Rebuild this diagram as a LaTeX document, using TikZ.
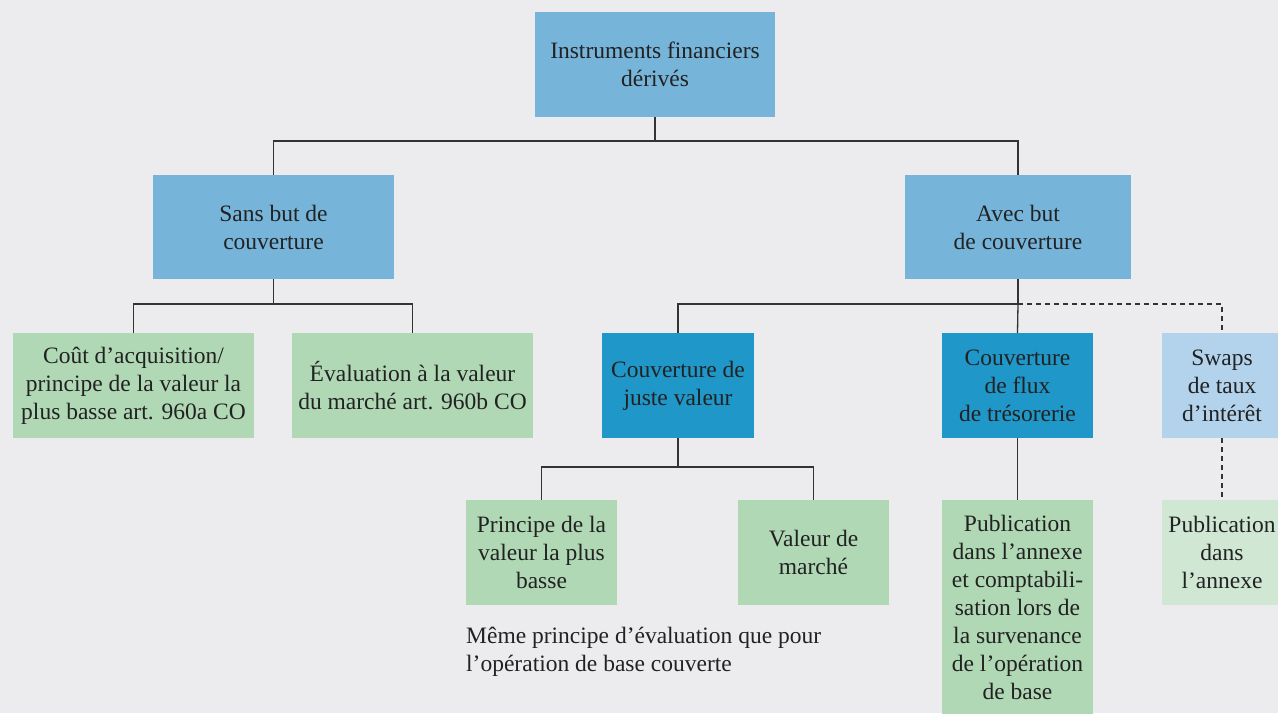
\documentclass[tikz,border=0pt]{standalone}
\usepackage{fontspec}
\setmainfont{Liberation Serif}
\usetikzlibrary{positioning}
\definecolor{bg}{HTML}{ECECEE}
\definecolor{bluemid}{HTML}{76B4DA}
\definecolor{bluedark}{HTML}{1F97C8}
\definecolor{bluelight}{HTML}{B2D3EB}
\definecolor{greenmid}{HTML}{B0D8B5}
\definecolor{greenlight}{HTML}{CFE7D3}
\definecolor{ink}{HTML}{222222}
\definecolor{linec}{HTML}{333333}
\tikzset{
  box/.style={rectangle, inner sep=0pt, align=center, text=ink,
    font=\fontsize{23.5}{28}\selectfont},
  conn/.style={draw=linec, line width=1.3pt},
  dconn/.style={conn, dash pattern=on 5pt off 4pt},
}
\begin{document}
\begin{tikzpicture}[x=1pt,y=-1pt]
\useasboundingbox (0,0) rectangle (1278,713);
\fill[bg] (0,0) rectangle (1278,713);
\clip (0,0) rectangle (1278,713);
\node[box, fill=bluemid, minimum width=240pt, minimum height=105pt] (top) at (655,64.5) {Instruments financiers\\dérivés};
\node[box, fill=bluemid, minimum width=241pt, minimum height=104pt] (sans) at (273.5,227) {Sans but de\\couverture};
\node[box, fill=bluemid, minimum width=226pt, minimum height=104pt] (avec) at (1018,227) {Avec but\\de couverture};
\node[box, fill=greenmid, minimum width=241pt, minimum height=105pt] (cout) at (133.5,385.5) {Coût d’acquisition/\\principe de la valeur la\\plus basse art. 960a CO};
\node[box, fill=greenmid, minimum width=241pt, minimum height=105pt] (eval) at (412.5,385.5) {Évaluation à la valeur\\du marché art. 960b CO};
\node[box, fill=bluedark, minimum width=152pt, minimum height=105pt] (juste) at (678,385.5) {Couverture de\\juste valeur};
\node[box, fill=bluedark, minimum width=151pt, minimum height=105pt] (flux) at (1017.5,385.5) {Couverture\\de flux\\de trésorerie};
\node[box, fill=bluelight, minimum width=120pt, minimum height=105pt] (swaps) at (1222,385.5) {Swaps\\de taux\\d’intérêt};
\node[box, fill=greenmid, minimum width=151pt, minimum height=105pt] (principe) at (541.5,552.5) {Principe de la\\valeur la plus\\basse};
\node[box, fill=greenmid, minimum width=151pt, minimum height=105pt] (valeur) at (813.5,552.5) {Valeur de\\marché};
\node[box, fill=greenmid, minimum width=151pt, minimum height=214pt] (pub) at (1017.5,607) {Publication\\dans l’annexe\\et comptabili-\\sation lors de\\la survenance\\de l’opération\\de base};
\node[box, fill=greenlight, minimum width=120pt, minimum height=105pt] (pub2) at (1222,552.5) {Publication\\dans\\l’annexe};
\node[box, anchor=north west, align=left] (note) at (466,627) {Même principe d’évaluation que pour\\l’opération de base couverte};
\coordinate (j1) at (655,141);
\coordinate (j2) at (273.5,304);
\coordinate (j3) at (1018,304);
\coordinate (j4) at (678,467);
\draw[conn] (top.south) -- (j1);
\draw[conn] (j1) -| (sans.north);
\draw[conn] (j1) -| (avec.north);
\draw[conn] (sans.south) -- (j2);
\draw[conn] (j2) -| (cout.north);
\draw[conn] (j2) -| (eval.north);
\draw[conn] (avec.south) -- (j3);
\draw[conn] (j3) -| (juste.north);
\draw[conn] (j3) -- (flux.north);
\draw[dconn] (j3) -| (swaps.north);
\draw[conn] (juste.south) -- (j4);
\draw[conn] (j4) -| (principe.north);
\draw[conn] (j4) -| (valeur.north);
\draw[conn] (flux.south) -- (pub.north);
\draw[dconn] (swaps.south) -- (pub2.north);
\end{tikzpicture}
\end{document}
